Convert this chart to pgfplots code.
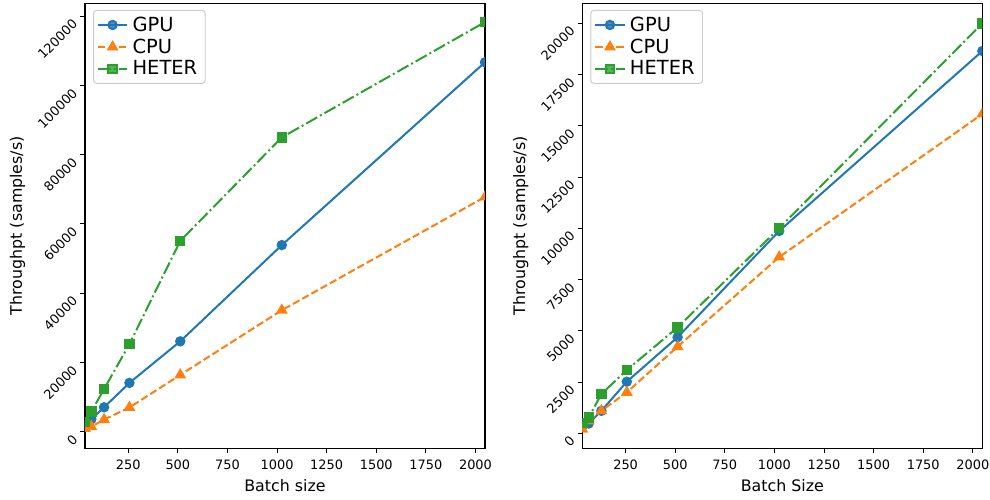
\documentclass[border=0pt]{standalone}
\usepackage{fontspec}
\setmainfont{DejaVu Sans}
\usepackage{pgfplots}
\usepackage{pgfplotstable}
\pgfplotsset{compat=1.18}
\definecolor{cgpu}{HTML}{1F77B4}
\definecolor{ccpu}{HTML}{FF7F0E}
\definecolor{chet}{HTML}{2CA02C}
\definecolor{lgframe}{RGB}{204,204,204}

\pgfplotstableread{
x GPU CPU HETER
32 1800 950 2900
64 3600 1500 5800
128 7050 3500 12300
256 14100 7000 25300
512 26100 16400 55100
1024 53900 35100 85000
2048 106700 67800 118300
}\leftdata

\pgfplotstableread{
x GPU CPU HETER
32 350 200 500
64 480 600 780
128 1100 1100 1920
256 2520 2000 3090
512 4690 4230 5170
1024 9870 8600 10010
2048 18650 15580 20000
}\rightdata

\pgfplotsset{
  mystyle/.style={
    scale only axis,
    width=288bp, height=320.6bp,
    xmin=32, xmax=2048,
    xtick={250,500,...,2000},
    tick pos=left,
    tick align=outside,
    major tick length=3.3bp,
    axis line style={black, line width=0.76bp},
    every tick/.style={black, line width=0.76bp},
    clip marker paths=true,
    /pgf/number format/.cd, fixed, 1000 sep={}, assume math mode=true, /pgfplots/.cd,
    ticklabel style={font=\fontsize{9.3bp}{11bp}\selectfont},
    xticklabel style={yshift=-1.5bp},
    yticklabel style={rotate=45, anchor=east, xshift=-2bp},
    scaled y ticks=false, scaled x ticks=false,
    label style={font=\fontsize{11.4bp}{13bp}\selectfont},
    ylabel={Throughpt (samples/s)},
    legend cell align=left,
    legend style={at={(0,1)}, anchor=north west, xshift=5.8bp, yshift=-5bp,
      draw=lgframe, fill=white, fill opacity=0.8, text opacity=1, rounded corners=2bp,
      font=\fontsize{14bp}{16bp}\selectfont, row sep=0bp, inner sep=2.5bp,
      line width=0.7bp, nodes={inner xsep=3.2bp}},
    legend image code/.code={\draw[mark repeat=2,mark phase=2,#1] plot coordinates {(0bp,0bp)(10.5bp,0bp)(21bp,0bp)};},
  },
  gpu/.style={color=cgpu, line width=1.44bp, solid, mark=*, mark size=3bp, mark options={solid, fill=cgpu, draw=cgpu}},
  cpu/.style={color=ccpu, line width=1.44bp, dash pattern=on 5.3bp off 2.3bp, mark=triangle*, mark size=3.5bp, mark options={solid, fill=ccpu, draw=ccpu}},
  het/.style={color=chet, line width=1.44bp, dash pattern=on 9.1bp off 2.3bp on 1.4bp off 2.3bp, mark=square*, mark size=3bp, mark options={solid, fill=chet, draw=chet}},
}

\begin{document}
\begin{tikzpicture}
\path[use as bounding box] (-61.2bp,-36.5bp) rectangle (651.6bp,322.8bp);
\begin{axis}[mystyle, at={(0bp,0bp)}, anchor=south west,
  ymin=-4800, ymax=123800, ytick={0,20000,...,120000},
  xlabel={Batch size}]
\addplot[gpu] table[x=x,y=GPU] {\leftdata};
\addplot[cpu] table[x=x,y=CPU] {\leftdata};
\addplot[het] table[x=x,y=HETER] {\leftdata};
\legend{GPU,CPU,HETER}
\end{axis}
\begin{axis}[mystyle, at={(358.1bp,0bp)}, anchor=south west,
  ymin=-730, ymax=20990, ytick={0,2500,...,20000},
  xlabel={Batch Size}]
\addplot[gpu] table[x=x,y=GPU] {\rightdata};
\addplot[cpu] table[x=x,y=CPU] {\rightdata};
\addplot[het] table[x=x,y=HETER] {\rightdata};
\legend{GPU,CPU,HETER}
\end{axis}
\end{tikzpicture}
\end{document}
